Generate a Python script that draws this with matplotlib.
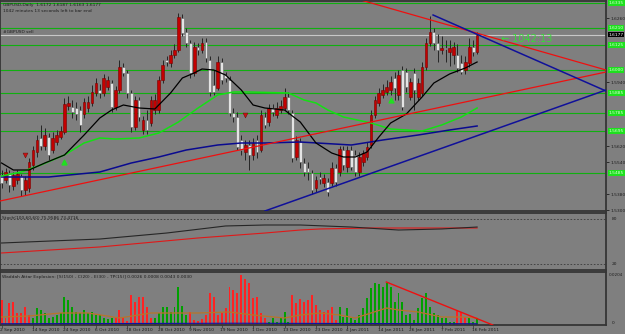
import matplotlib.pyplot as plt

# ---- daily GBPUSD bars ----
opens = [1.5475, 1.5450, 1.5485, 1.5420, 1.5450, 1.5470, 1.5400, 1.5410, 1.5525, 1.5590,
         1.5660, 1.5620, 1.5665, 1.5600, 1.5640, 1.5665, 1.5690, 1.5820, 1.5815, 1.5810,
         1.5800, 1.5780, 1.5810, 1.5835, 1.5885, 1.5900, 1.5885, 1.5915, 1.5935, 1.5815,
         1.5900, 1.6015, 1.5985, 1.5885, 1.5715, 1.5850, 1.5700, 1.5750, 1.5735, 1.5800,
         1.5800, 1.5950, 1.6050, 1.6035, 1.6075, 1.6100, 1.6260, 1.6190, 1.6135, 1.5985,
         1.6115, 1.6100, 1.6140, 1.6050, 1.5925, 1.5910, 1.6040, 1.5975, 1.5950, 1.5785,
         1.5765, 1.5650, 1.5590, 1.5625, 1.5575, 1.5650, 1.5600, 1.5765, 1.5740, 1.5810,
         1.5775, 1.5800, 1.5810, 1.5865, 1.5785, 1.5565, 1.5640, 1.5535, 1.5510, 1.5485,
         1.5410, 1.5465, 1.5435, 1.5440, 1.5435, 1.5510, 1.5490, 1.5600, 1.5515, 1.5600,
         1.5575, 1.5490, 1.5540, 1.5565, 1.5625, 1.5775, 1.5835, 1.5875, 1.5890, 1.5900,
         1.5960, 1.5875, 1.6000, 1.5990, 1.5865, 1.5985, 1.5865, 1.5885, 1.6015, 1.6135,
         1.6190, 1.6135, 1.6100, 1.6110, 1.6090, 1.6075, 1.6075, 1.6035, 1.6000, 1.6035,
         1.6115, 1.6090]
highs = [1.5500, 1.5510, 1.5500, 1.5490, 1.5500, 1.5480, 1.5470, 1.5560, 1.5620, 1.5675,
         1.5725, 1.5710, 1.5685, 1.5690, 1.5700, 1.5720, 1.5860, 1.5870, 1.5850, 1.5840,
         1.5820, 1.5860, 1.5870, 1.5925, 1.5960, 1.5930, 1.5980, 1.5970, 1.5950, 1.5920,
         1.6050, 1.6035, 1.6000, 1.5900, 1.5870, 1.5865, 1.5770, 1.5800, 1.5870, 1.5880,
         1.5970, 1.6050, 1.6070, 1.6100, 1.6130, 1.6285, 1.6280, 1.6210, 1.6150, 1.6140,
         1.6135, 1.6160, 1.6160, 1.6070, 1.6000, 1.6070, 1.6060, 1.5990, 1.5970, 1.5810,
         1.5790, 1.5675, 1.5650, 1.5650, 1.5660, 1.5675, 1.5800, 1.5790, 1.5830, 1.5830,
         1.5840, 1.5850, 1.5910, 1.5890, 1.5800, 1.5670, 1.5660, 1.5560, 1.5540, 1.5500,
         1.5470, 1.5490, 1.5480, 1.5460, 1.5540, 1.5530, 1.5620, 1.5620, 1.5620, 1.5620,
         1.5600, 1.5590, 1.5600, 1.5640, 1.5800, 1.5870, 1.5910, 1.5930, 1.5950, 1.5970,
         1.5990, 1.6000, 1.6020, 1.6010, 1.5960, 1.6010, 1.5960, 1.6040, 1.6160, 1.6270,
         1.6210, 1.6180, 1.6170, 1.6150, 1.6150, 1.6140, 1.6130, 1.6075, 1.6070, 1.6160,
         1.6150, 1.6190]
lows = [1.5410, 1.5435, 1.5390, 1.5400, 1.5430, 1.5370, 1.5375, 1.5390, 1.5500, 1.5565,
        1.5600, 1.5600, 1.5550, 1.5585, 1.5625, 1.5655, 1.5680, 1.5800, 1.5760, 1.5750,
        1.5690, 1.5760, 1.5790, 1.5820, 1.5870, 1.5860, 1.5870, 1.5900, 1.5790, 1.5800,
        1.5885, 1.5970, 1.5860, 1.5690, 1.5700, 1.5745, 1.5680, 1.5680, 1.5720, 1.5780,
        1.5785, 1.5935, 1.6020, 1.6015, 1.6060, 1.6090, 1.6170, 1.6115, 1.5960, 1.5970,
        1.6075, 1.6085, 1.6040, 1.5870, 1.5875, 1.5900, 1.5930, 1.5940, 1.5770, 1.5740,
        1.5600, 1.5575, 1.5550, 1.5500, 1.5550, 1.5560, 1.5590, 1.5710, 1.5720, 1.5770,
        1.5760, 1.5785, 1.5800, 1.5780, 1.5540, 1.5550, 1.5510, 1.5470, 1.5450, 1.5380,
        1.5390, 1.5430, 1.5415, 1.5370, 1.5420, 1.5420, 1.5470, 1.5500, 1.5490, 1.5500,
        1.5470, 1.5470, 1.5520, 1.5550, 1.5610, 1.5760, 1.5820, 1.5860, 1.5875, 1.5875,
        1.5850, 1.5850, 1.5800, 1.5890, 1.5850, 1.5800, 1.5850, 1.5870, 1.6000, 1.6120,
        1.6100, 1.6040, 1.6080, 1.6040, 1.6020, 1.6030, 1.5990, 1.5980, 1.5980, 1.6015,
        1.6070, 1.6080]
closes = [1.5435, 1.5490, 1.5425, 1.5475, 1.5480, 1.5400, 1.5450, 1.5540, 1.5600, 1.5650,
          1.5620, 1.5675, 1.5575, 1.5660, 1.5675, 1.5695, 1.5830, 1.5835, 1.5790, 1.5780,
          1.5725, 1.5840, 1.5840, 1.5890, 1.5935, 1.5885, 1.5960, 1.5950, 1.5815, 1.5900,
          1.6015, 1.5985, 1.5885, 1.5715, 1.5850, 1.5765, 1.5750, 1.5700, 1.5850, 1.5850,
          1.5950, 1.6025, 1.6040, 1.6075, 1.6100, 1.6265, 1.6185, 1.6135, 1.5985, 1.6115,
          1.6100, 1.6135, 1.6060, 1.5890, 1.5890, 1.6040, 1.5950, 1.5960, 1.5785, 1.5765,
          1.5615, 1.5600, 1.5625, 1.5575, 1.5635, 1.5590, 1.5775, 1.5725, 1.5810, 1.5790,
          1.5810, 1.5820, 1.5865, 1.5800, 1.5560, 1.5650, 1.5540, 1.5490, 1.5490, 1.5400,
          1.5450, 1.5455, 1.5460, 1.5390, 1.5510, 1.5440, 1.5605, 1.5525, 1.5600, 1.5515,
          1.5490, 1.5565, 1.5585, 1.5615, 1.5775, 1.5850, 1.5885, 1.5900, 1.5915, 1.5940,
          1.5910, 1.5975, 1.5815, 1.5915, 1.5940, 1.5900, 1.5935, 1.6015, 1.6135, 1.6190,
          1.6135, 1.6100, 1.6110, 1.6105, 1.6110, 1.6115, 1.6010, 1.5990, 1.6040, 1.6115,
          1.6090, 1.6177]

# moving averages, sampled (bar index, price)
fast_idx = [0, 3, 7, 11, 16, 21, 25, 28, 31, 35, 39, 43, 46, 49, 51, 54, 57, 61, 64, 67,
            72, 76, 80, 84, 87, 90, 93, 96, 99, 103, 107, 110, 114, 118, 121]
fast_ma = [1.5535, 1.5500, 1.5500, 1.5535, 1.5575, 1.5675, 1.5760, 1.5800, 1.5825, 1.5810,
           1.5805, 1.5885, 1.5960, 1.5985, 1.6005, 1.6000, 1.5975, 1.5900, 1.5825, 1.5810,
           1.5800, 1.5740, 1.5635, 1.5585, 1.5565, 1.5565, 1.5590, 1.5665, 1.5735, 1.5780,
           1.5865, 1.5935, 1.5980, 1.6010, 1.6040]
mid_idx = [0, 5, 10, 16, 21, 25, 29, 35, 40, 45, 50, 55, 59, 63, 73, 77, 80, 83, 87, 94,
           99, 107, 112, 117, 121]
mid_ma = [1.5470, 1.5490, 1.5525, 1.5575, 1.5635, 1.5660, 1.5655, 1.5660, 1.5685, 1.5740,
          1.5810, 1.5875, 1.5890, 1.5890, 1.5885, 1.5850, 1.5835, 1.5800, 1.5765, 1.5735,
          1.5705, 1.5695, 1.5725, 1.5765, 1.5810]
slow_idx = [0, 12, 25, 33, 40, 47, 55, 61, 67, 76, 89, 97, 106, 114, 121]
slow_ma = [1.5465, 1.5465, 1.5490, 1.5535, 1.5565, 1.5600, 1.5625, 1.5635, 1.5635, 1.5640,
           1.5625, 1.5650, 1.5675, 1.5700, 1.5720]

# trendlines (start/end bar index and price)
red_up_x, red_up_y = [-0.4, 153.8], [1.5345, 1.5990]
red_dn_x, red_dn_y = [90.5, 153.8], [1.6355, 1.6000]
blue_dn_x, blue_dn_y = [109.8, 153.8], [1.6275, 1.5895]
blue_up_x, blue_up_y = [67, 153.8], [1.5295, 1.5900]

levels = [1.6335, 1.6210, 1.6125, 1.6000, 1.5885, 1.5785, 1.5695, 1.5485]
bid = 1.6177

sell_idx, sell_px = [6, 62], [1.5575, 1.5775]
buy_idx, buy_px = [16, 99], [1.5540, 1.5850]

# stochastic
stk_idx = [0, 25, 42, 57, 67, 76, 89, 101, 112, 121]
stk_val = [48.0, 53.3, 61.3, 70.7, 72.0, 72.0, 69.3, 65.3, 66.7, 69.3]
sig_idx = [0, 25, 50, 67, 76, 81, 93, 121]
sig_val = [34.7, 42.7, 54.7, 61.3, 65.3, 66.7, 68.0, 68.0]

# Waddah Attar Explosion histogram
wae = [0.0100, 0.0028, 0.0088, 0.0092, 0.0048, 0.0048, 0.0072, 0.0040, 0.0028, 0.0068,
       0.0060, 0.0048, 0.0028, 0.0032, 0.0040, 0.0048, 0.0112, 0.0100, 0.0072, 0.0052,
       0.0048, 0.0060, 0.0048, 0.0052, 0.0040, 0.0040, 0.0028, 0.0024, 0.0028, 0.0028,
       0.0060, 0.0032, 0.0016, 0.0120, 0.0092, 0.0112, 0.0112, 0.0072, 0.0028, 0.0028,
       0.0048, 0.0072, 0.0072, 0.0052, 0.0072, 0.0152, 0.0076, 0.0040, 0.0052, 0.0020,
       0.0016, 0.0024, 0.0040, 0.0128, 0.0112, 0.0040, 0.0048, 0.0068, 0.0152, 0.0140,
       0.0128, 0.0200, 0.0184, 0.0168, 0.0108, 0.0112, 0.0048, 0.0028, 0.0012, 0.0028,
       0.0012, 0.0028, 0.0052, 0.0012, 0.0120, 0.0088, 0.0104, 0.0092, 0.0100, 0.0120,
       0.0080, 0.0060, 0.0052, 0.0060, 0.0072, 0.0020, 0.0072, 0.0032, 0.0068, 0.0028,
       0.0020, 0.0040, 0.0068, 0.0108, 0.0148, 0.0168, 0.0164, 0.0152, 0.0168, 0.0152,
       0.0092, 0.0128, 0.0092, 0.0040, 0.0044, 0.0020, 0.0068, 0.0108, 0.0128, 0.0072,
       0.0048, 0.0040, 0.0028, 0.0028, 0.0012, 0.0012, 0.0060, 0.0052, 0.0032, 0.0028,
       0.0012, 0.0028]
# g = trend up (green bar), r = trend down (red bar)
wae_up = ("rrrrrrrr" + "g" * 21 + "rrrrrrrrrr" + "ggggggggg" + "r" * 20 + "gggggg"
          + "r" * 12 + "g" * 30 + "rrr" + "ggg")
exp_idx = [0, 7, 15, 22, 30, 38, 45, 50, 58, 64, 72, 76, 81, 86, 90, 94, 98, 101, 106, 112, 117, 121]
exp_val = [0.0032, 0.0036, 0.0048, 0.0048, 0.0028, 0.0048, 0.0048, 0.0048, 0.0052, 0.0040,
           0.0028, 0.0040, 0.0048, 0.0040, 0.0028, 0.0048, 0.0068, 0.0060, 0.0052, 0.0032,
           0.0032, 0.0028]
dead_idx = [0, 60, 121]
dead_val = [0.0005, 0.0007, 0.0005]
wae_tl_x, wae_tl_y = [97.9, 125.0], [0.0172, 0.0]

date_idx = list(range(0, 121, 8))
date_lbl = ['2 Sep 2010', '14 Sep 2010', '24 Sep 2010', '6 Oct 2010', '18 Oct 2010',
            '28 Oct 2010', '9 Nov 2010', '19 Nov 2010', '1 Dec 2010', '13 Dec 2010',
            '23 Dec 2010', '4 Jan 2011', '14 Jan 2011', '26 Jan 2011', '7 Feb 2011',
            '16 Feb 2011']

bg = '#7f7f7f'
frame = '#353535'
txt = '#1e1e1e'
fs = 3.2

fig = plt.figure(figsize=(6.25, 3.34), dpi=100, facecolor=bg)
W = 606 / 625
ax = fig.add_axes([0, 123 / 334, W, 210 / 334], facecolor=bg)
ax2 = fig.add_axes([0, 64 / 334, W, 57 / 334], facecolor=bg)
ax3 = fig.add_axes([0, 9 / 334, W, 53 / 334], facecolor=bg)

for a in (ax, ax2, ax3):
    a.set_xlim(-0.4, 153.8)
    for s in a.spines.values():
        s.set_color(frame)
        s.set_linewidth(1.3)
    a.tick_params(left=False, bottom=False, labelbottom=False, labelleft=False)

# ---- main price window ----
ax.set_ylim(1.5295, 1.6345)
for lv in levels:
    ax.axhline(lv, color='#10b010', lw=0.8, zorder=1)
    ax.text(1.004, lv, f'{lv:.4f}', transform=ax.get_yaxis_transform(), fontsize=fs,
            color='#d8ffd8', va='center', ha='left', clip_on=False, zorder=6,
            bbox=dict(boxstyle='square,pad=0.2', fc='#1ee01e', ec='none'))
ax.axhline(bid, color='#c8c8c8', lw=0.8, zorder=1)
ax.text(1.004, bid, f'{bid:.4f}', transform=ax.get_yaxis_transform(), fontsize=fs,
        color='white', va='center', ha='left', clip_on=False, zorder=6,
        bbox=dict(boxstyle='square,pad=0.2', fc='black', ec='none'))

# price ticks, leaving out the ones hidden behind the level labels
yt = [1.5300 + 0.0080 * k for k in range(14)]
yt = [v for v in yt if min(abs(v - lv) for lv in levels + [bid]) > 0.0035]
ax.yaxis.tick_right()
ax.set_yticks(yt)
ax.set_yticklabels([f'{v:.4f}' for v in yt])
ax.tick_params(axis='y', right=True, labelright=True, length=2, width=0.6,
               colors=txt, labelsize=fs, pad=1.5)

n = len(opens)
for i in range(n):
    o, h, l, c = opens[i], highs[i], lows[i], closes[i]
    ax.vlines(i, l, h, color='#262626', lw=0.7, zorder=2)
    bull = c >= o
    body = max(abs(c - o), 0.0002)
    ax.bar(i, body, bottom=min(o, c), width=0.7,
           color='#c40000' if bull else '#e4e4e4',
           edgecolor='#7a0000' if bull else '#6a6a6a', linewidth=0.4, zorder=3)

ax.plot(slow_idx, slow_ma, color='#0a0a90', lw=1.1, zorder=4)
ax.plot(mid_idx, mid_ma, color='#14e014', lw=1.1, zorder=4)
ax.plot(fast_idx, fast_ma, color='black', lw=0.9, zorder=4)

ax.plot(red_up_x, red_up_y, color='#ee1010', lw=0.9, zorder=5)
ax.plot(red_dn_x, red_dn_y, color='#ee1010', lw=0.9, zorder=5)
ax.plot(blue_dn_x, blue_dn_y, color='#10109a', lw=1.1, zorder=5)
ax.plot(blue_up_x, blue_up_y, color='#10109a', lw=1.1, zorder=5)

ax.scatter(sell_idx, sell_px, marker='v', s=12, color='#d01010', edgecolor='#701010',
           linewidth=0.4, zorder=6)
ax.scatter(buy_idx, buy_px, marker='^', s=12, color='#20e020', zorder=6)

ax.text(127, 1.6155, '\u2190 1042:13', fontsize=7, color='#3ad83a', va='center', ha='left',
        zorder=6)

fig.text(3 / 625, 1 - 5 / 334, 'GBPUSD,Daily  1.6172 1.6187 1.6163 1.6177', fontsize=fs,
         color=txt, va='center')
fig.text(3 / 625, 1 - 10.5 / 334, '1042 minutes 13 seconds left to bar end', fontsize=fs,
         color=txt, va='center')
fig.text(3 / 625, 1 - 32 / 334, '#GBPUSD sell', fontsize=fs, color=txt, va='center')

# ---- stochastic window ----
ax2.set_ylim(12, 88)
ax2.axhline(80, color='#3a3a3a', lw=0.6, ls=(0, (2, 2)))
ax2.axhline(20, color='#3a3a3a', lw=0.6, ls=(0, (2, 2)))
ax2.plot(sig_idx, sig_val, color='#e01818', lw=0.8)
ax2.plot(stk_idx, stk_val, color='#262626', lw=0.8)
ax2.text(0.004, 0.92, 'Stoch(100,60,60) 75.9586 73.4716', transform=ax2.transAxes,
         fontsize=fs, color=txt, va='center')
for v in (80, 20):
    ax2.text(1.01, v, str(v), transform=ax2.get_yaxis_transform(), fontsize=fs,
             color=txt, va='center', clip_on=False)

# ---- Waddah Attar Explosion window ----
ax3.set_ylim(0, 0.0212)
cols = ['#00a000' if u == 'g' else '#ff2222' for u in wae_up]
ax3.bar(range(n), wae, width=0.5, color=cols, zorder=2)
ax3.plot(exp_idx, exp_val, color='#b8742a', lw=0.9, zorder=3)
ax3.plot(dead_idx, dead_val, color='#1010a0', lw=0.8, zorder=3)
ax3.plot(wae_tl_x, wae_tl_y, color='#ee1010', lw=1.0, zorder=4)
ax3.text(0.004, 0.9, 'Waddah Attar Explosion: [S(150) - C(20) - E(30) - TP(15)] '
         '0.0026 0.0008 0.0043 0.0030', transform=ax3.transAxes, fontsize=fs,
         color=txt, va='center')
ax3.text(1.004, 0.0200, '0.0204', transform=ax3.get_yaxis_transform(), fontsize=3.0,
         color=txt, va='center', clip_on=False)
ax3.text(1.01, 0.0008, '0', transform=ax3.get_yaxis_transform(), fontsize=fs,
         color=txt, va='center', clip_on=False)

ax3.set_xticks(date_idx)
ax3.tick_params(axis='x', bottom=True, length=2, width=0.5, color=frame)
for i, lb in zip(date_idx, date_lbl):
    ax3.text(i - 0.3, -0.1, lb, transform=ax3.get_xaxis_transform(), fontsize=fs,
             color=txt, va='center', ha='left', clip_on=False)

fig.savefig('out.png', dpi=100, facecolor=bg)
